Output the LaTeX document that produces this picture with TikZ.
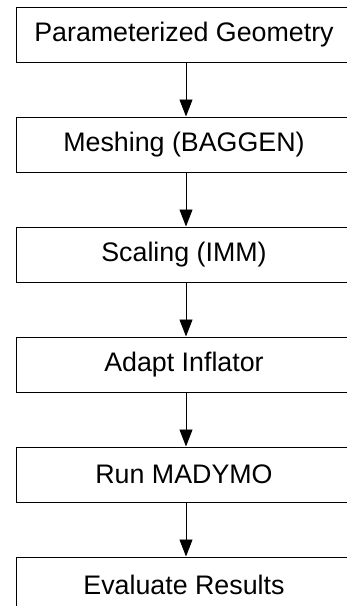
\documentclass[tikz,border=0pt]{standalone}
\usepackage{fontspec}
\setmainfont{Liberation Sans}
\usetikzlibrary{arrows.meta}
\begin{document}
\begin{tikzpicture}[x=1pt,y=-1pt,
  stepbox/.style={draw=black,line width=0.9pt,minimum width=336pt,minimum height=55pt,
    inner sep=0pt,anchor=north,font=\fontsize{26.8}{30}\selectfont},
  flow/.style={line width=0.9pt,-{Triangle[length=17pt,width=13pt]}}]
\useasboundingbox (0,0) rectangle (347,606);
\clip (0,0) rectangle (347,606);
\node[stepbox] (b1) at (184,6.5) {Parameterized Geometry};
\node[stepbox] (b2) at (184,116.5) {Meshing (BAGGEN)};
\node[stepbox] (b3) at (184,226.5) {Scaling (IMM)};
\node[stepbox] (b4) at (184,336.5) {Adapt Inflator};
\node[stepbox] (b5) at (184,446.5) {Run MADYMO};
\node[stepbox] (b6) at (184,556.5) {Evaluate Results};
\foreach \a/\b in {b1/b2,b2/b3,b3/b4,b4/b5,b5/b6}
  \draw[flow] ([xshift=2pt]\a.south) -- ([xshift=2pt]\b.north);
\end{tikzpicture}
\end{document}
